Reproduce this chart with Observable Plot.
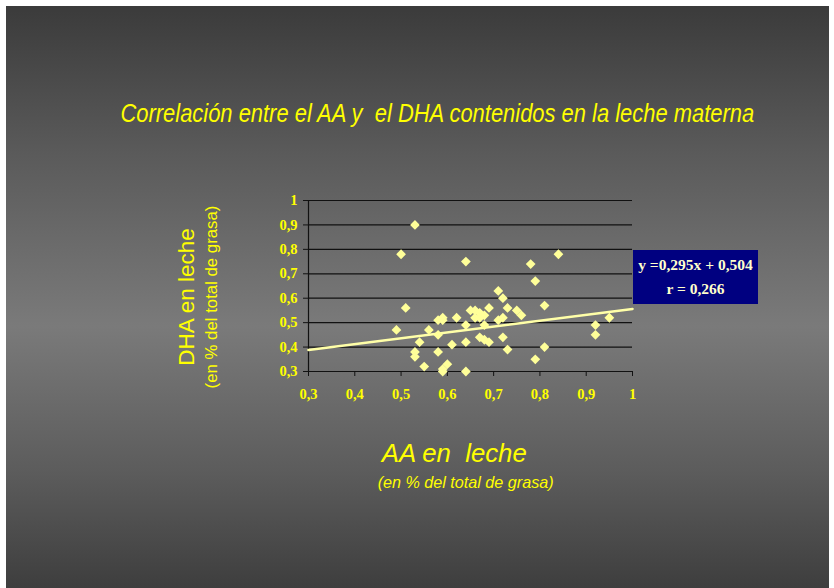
<!DOCTYPE html>
<html>
<head>
<meta charset="utf-8">
<script src="https://cdn.jsdelivr.net/npm/d3@7"></script>
<script src="https://cdn.jsdelivr.net/npm/@observablehq/plot@0.6"></script>
<style>
  html, body { margin: 0; padding: 0; background: #ffffff; }
  #slide {
    position: absolute; left: 6px; top: 6px; width: 823px; height: 582px;
    background: linear-gradient(to bottom, #3b3b3b 0%, #5a5a5a 25%, #7a7a7a 55%, #5c5c5c 80%, #3e3e3e 100%);
    overflow: hidden;
  }
  .t { position: absolute; color: #ffff00; white-space: pre; text-align: center; }
  .t span { display: inline-block; }
  #title { left: 0; width: 862px; top: 93px; font: italic 25px "Liberation Sans", Arial, sans-serif; }
  #title span { transform: scaleX(0.877); }
  #xt1 { left: 0; width: 896px; top: 432px; font: italic 26px "Liberation Sans", Arial, sans-serif; }
  #xt1 span { transform: scaleX(0.99); }
  #xt2 { left: 0; width: 919px; top: 467px; font: italic 17px "Liberation Sans", Arial, sans-serif; }
  #xt2 span { transform: scaleX(0.95); }
  #yt { position: absolute; left: 181px; top: 291px; width: 0; height: 0; }
  #yt div { position: absolute; transform: translate(-50%, -50%) rotate(-90deg); white-space: pre; color: #ffff00; font-family: "Liberation Sans", Arial, sans-serif; }
  #yt1 { left: 0; top: 0; font-size: 22.5px; }
  #yt2 { left: 25px; top: 0; font-size: 16.8px; }
  #chart { position: absolute; left: 254px; top: 176px; }
  #chart svg text { font-family: "Liberation Serif", "Times New Roman", serif; font-weight: bold; font-size: 14.5px; }
  #eq { position: absolute; left: 627px; top: 244px; width: 125px; height: 54px; background: #000080;
        color: #ffffcc; font: bold 15.5px "Liberation Serif", "Times New Roman", serif; text-align: center; line-height: 24px; padding-top: 3px; box-sizing: border-box; white-space: pre; }
</style>
</head>
<body>
<div id="slide">
  <div class="t" id="title"><span>Correlación entre el AA y  el DHA contenidos en la leche materna</span></div>
  <div id="yt"><div id="yt1">DHA en leche</div><div id="yt2">(en % del total de grasa)</div></div>
  <div id="chart"></div>
  <div id="eq"></div>
  <div class="t" id="xt1"><span>AA en  leche</span></div>
  <div class="t" id="xt2"><span>(en % del total de grasa)</span></div>
</div>
<script>
// Data
const aa  = [0.53,0.50,0.64,0.84,0.78,0.79,0.51,0.49,0.71,0.72,0.81,0.73,0.69,0.75,0.76,
             0.65,0.66,0.67,0.66,0.68,0.67,0.71,0.72,0.62,0.59,0.58,0.59,0.64,0.68,0.56,
             0.54,0.58,0.64,0.61,0.67,0.68,0.69,0.72,0.73,0.81,0.79,0.53,0.53,0.58,0.55,
             0.60,0.59,0.59,0.64,0.92,0.92,0.95];
const dha = [0.90,0.78,0.75,0.78,0.74,0.67,0.56,0.47,0.63,0.60,0.57,0.56,0.56,0.55,0.53,
             0.55,0.55,0.54,0.52,0.53,0.52,0.51,0.52,0.52,0.52,0.51,0.51,0.49,0.49,0.47,
             0.42,0.45,0.42,0.41,0.44,0.43,0.42,0.44,0.39,0.40,0.35,0.38,0.36,0.38,0.32,
             0.33,0.31,0.30,0.30,0.49,0.45,0.52];
const trendX = [0.3, 1.0];
const trendY = [0.388, 0.556];
const xTicks = [0.3,0.4,0.5,0.6,0.7,0.8,0.9,1];
const yTicks = [0.3,0.4,0.5,0.6,0.7,0.8,0.9,1];
const equationLines = ["y =0,295x + 0,504", "r = 0,266"];

const points = aa.map((a, i) => ({aa: a, dha: dha[i]}));
const trend = trendX.map((x, i) => ({x, y: trendY[i]}));
const fmt = d => String(+d.toFixed(1)).replace(".", ",");

const plot = Plot.plot({
  width: 382,
  height: 224,
  marginLeft: 48,
  marginRight: 10,
  marginTop: 18,
  marginBottom: 35,
  style: {background: "transparent", overflow: "visible", fontSize: "14.5px", fontFamily: "'Liberation Serif', 'Times New Roman', serif", fontWeight: "bold"},
  x: {domain: [0.3, 1]},
  y: {domain: [0.3, 1]},
  marks: [
    Plot.gridY(yTicks, {stroke: "#111", strokeOpacity: 1, strokeWidth: 1.2}),
    Plot.ruleX([0.3], {stroke: "#111", strokeWidth: 1.2}),
    Plot.ruleY([0.3], {stroke: "#111", strokeWidth: 1.2}),
    Plot.axisY(yTicks, {tickFormat: fmt, tickSize: 5, tickPadding: 6, stroke: "#111", fill: "#ffff00", label: null}),
    Plot.axisX(xTicks, {tickFormat: fmt, tickSize: 5, tickPadding: 12, stroke: "#111", fill: "#ffff00", label: null}),
    Plot.line(trend, {x: "x", y: "y", stroke: "#ffffa8", strokeWidth: 2.6}),
    Plot.dot(points, {x: "aa", y: "dha", symbol: "diamond2", r: 4.4, fill: "#ffff99", stroke: "none"})
  ]
});
document.getElementById("chart").appendChild(plot);
document.getElementById("eq").innerHTML = equationLines.map(s => `<div>${s}</div>`).join("");
</script>
</body>
</html>
